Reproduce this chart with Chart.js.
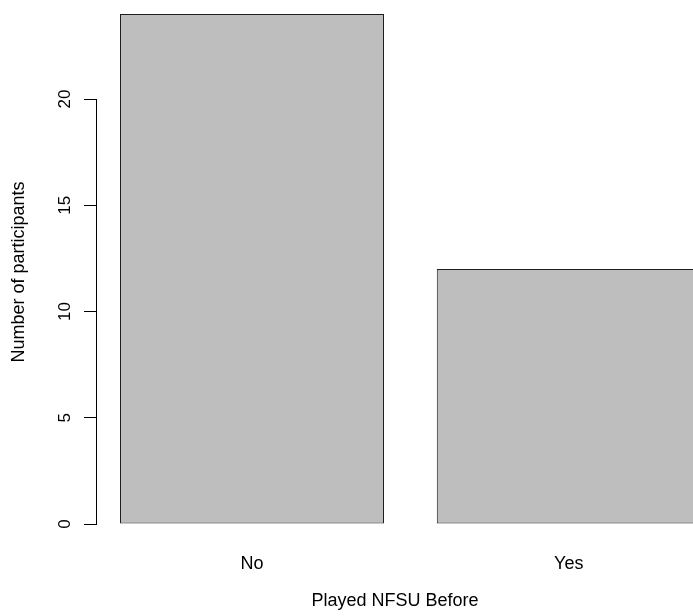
<!DOCTYPE html>
<html>
<head>
<meta charset="utf-8">
<script src="https://cdn.jsdelivr.net/npm/chart.js@4/dist/chart.umd.min.js"></script>
<style>
  html, body { margin: 0; padding: 0; background: #ffffff; overflow: hidden; }
  #wrap { width: 693px; height: 616px; }
</style>
</head>
<body>
<div id="wrap"><canvas id="c" width="693" height="616"></canvas></div>
<script>
// ---- data ----
const categories = ["No", "Yes"];
const participants = [24, 12];
const yTickValues = [0, 5, 10, 15, 20];
const xTitle = "Played NFSU Before";
const yTitle = "Number of participants";

// barplot-style layout: bar width 1, spacing 0.2
const barWidth = 1, barSpace = 0.2;
const barCenters = categories.map((c, i) => barSpace + barWidth / 2 + i * (barWidth + barSpace));

const FONT = "'Liberation Sans', Arial, Helvetica, sans-serif";
Chart.defaults.color = '#000';
Chart.defaults.font.family = FONT;

const yAxisLine = {
  id: 'yAxisLine',
  afterDraw(chart) {
    const ys = chart.scales.y;
    const ctx = chart.ctx;
    const x = Math.round(ys.right) - 0.5;
    const y0 = Math.round(ys.getPixelForValue(yTickValues[0])) + 0.5;
    const y1 = Math.round(ys.getPixelForValue(yTickValues[yTickValues.length - 1])) + 0.5;
    ctx.save();
    ctx.strokeStyle = '#000';
    ctx.lineWidth = 1;
    ctx.beginPath();
    ctx.moveTo(x, y0 + 0.5);
    ctx.lineTo(x, y1 - 0.5);
    ctx.stroke();
    ctx.restore();
  }
};

new Chart(document.getElementById('c'), {
  type: 'bar',
  data: {
    datasets: [{
      data: categories.map((c, i) => ({ x: barCenters[i], y: participants[i] })),
      backgroundColor: '#bebebe',
      borderColor: '#1e1e1e',
      borderWidth: 1,
      borderSkipped: false,
      categoryPercentage: 1,
      barPercentage: barWidth / (barWidth + barSpace)
    }]
  },
  options: {
    responsive: false,
    devicePixelRatio: 1,
    animation: false,
    layout: { padding: { left: 0, right: 0, top: 0, bottom: 0 } },
    plugins: { legend: { display: false }, tooltip: { enabled: false } },
    scales: {
      x: {
        type: 'linear',
        offset: false,
        min: 0.11288,
        max: 2.37046,
        grid: { display: false, drawTicks: false },
        border: { display: false },
        ticks: {
          padding: 9,
          maxRotation: 0,
          autoSkip: false,
          font: { size: 18, family: FONT },
          color: '#000',
          callback: (v, i) => categories[i]
        },
        afterBuildTicks: (s) => { s.ticks = barCenters.map(v => ({ value: v })); },
        afterFit: (s) => { s.height = 72; s.paddingLeft = 0; s.paddingRight = 0; },
        title: {
          display: true,
          text: xTitle,
          font: { size: 18, family: FONT },
          color: '#000',
          padding: { top: 0, bottom: 4 }
        }
      },
      y: {
        min: -20 / 21.25,
        max: 524 / 21.25,
        grid: { drawOnChartArea: false, drawTicks: true, tickLength: 13, color: '#000', lineWidth: 1 },
        border: { display: false },
        ticks: {
          minRotation: 90,
          maxRotation: 90,
          crossAlign: 'center',
          padding: 9,
          font: { size: 17, family: FONT },
          color: '#000'
        },
        afterBuildTicks: (s) => { s.ticks = yTickValues.map(v => ({ value: v })); },
        afterFit: (s) => { s.width = 97; s.paddingTop = 0; s.paddingBottom = 0; },
        title: {
          display: true,
          text: yTitle,
          font: { size: 18, family: FONT },
          color: '#000',
          padding: { top: 8, bottom: 0 }
        }
      }
    }
  },
  plugins: [yAxisLine]
});
</script>
</body>
</html>
